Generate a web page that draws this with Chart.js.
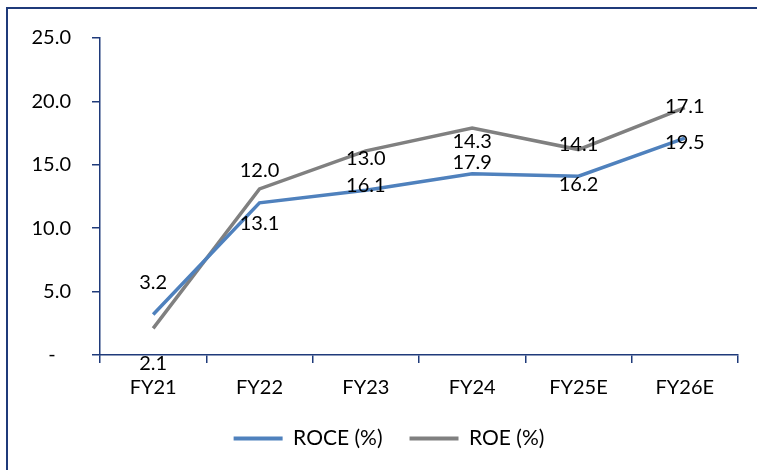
<!DOCTYPE html>
<html>
<head>
<meta charset="utf-8">
<script src="https://cdn.jsdelivr.net/npm/chart.js@4.4.1/dist/chart.umd.min.js"></script>
<style>
  html, body { margin: 0; padding: 0; background: #ffffff; overflow: hidden; }
  #wrap { position: relative; width: 757px; height: 470px; overflow: hidden; }
  #frame { position: absolute; left: 6px; top: 7px; width: 800px; height: 500px; border: 2px solid #1F3A7A; box-sizing: border-box; }
  canvas { position: absolute; left: 0; top: 0; }
</style>
</head>
<body>
<div id="wrap">
  <div id="frame"></div>
  <canvas id="c" width="757" height="470"></canvas>
</div>
<script>
const categories = ['FY21', 'FY22', 'FY23', 'FY24', 'FY25E', 'FY26E'];
const roce = [3.2, 12.0, 13.0, 14.3, 14.1, 17.1];
const roe = [2.1, 13.1, 16.1, 17.9, 16.2, 19.5];
const yTicks = [0, 5, 10, 15, 20, 25];

const NAVY = '#1F3A7A';
const FONT = { family: 'Lato, "Open Sans", sans-serif', size: 20 };
const LEGEND_FONT = { family: 'Lato, "Open Sans", sans-serif', size: 21 };

const labelPlugin = {
  id: 'valueLabels',
  afterLayout(chart) {
    if (chart.legend) { chart.legend.left += 20; chart.legend.right += 20; }
  },
  afterDatasetsDraw(chart) {
    const ctx = chart.ctx;
    ctx.save();
    ctx.font = FONT.size + 'px ' + FONT.family;
    ctx.fillStyle = '#000000';
    ctx.textAlign = 'center';
    ctx.textBaseline = 'middle';
    chart.data.datasets.forEach((ds, i) => {
      const meta = chart.getDatasetMeta(i);
      meta.data.forEach((pt, j) => {
        ctx.fillText(ds.data[j].toFixed(1), pt.x, pt.y + ds.labelOffset);
      });
    });
    ctx.restore();
  }
};

new Chart(document.getElementById('c'), {
  type: 'line',
  data: {
    labels: categories,
    datasets: [
      { label: 'ROCE (%)', data: roce, borderColor: '#4F81BD', backgroundColor: '#4F81BD',
        borderWidth: 3.5, pointRadius: 0, tension: 0, labelOffset: -32 },
      { label: 'ROE (%)', data: roe, borderColor: '#808080', backgroundColor: '#808080',
        borderWidth: 3.5, pointRadius: 0, tension: 0, labelOffset: 35 }
    ]
  },
  options: {
    responsive: false,
    animation: false,
    layout: { padding: { top: 38, right: 19, left: 0, bottom: 11 } },
    plugins: {
      legend: {
        position: 'bottom',
        labels: {
          font: LEGEND_FONT, color: '#000000', boxWidth: 49, boxHeight: 4, padding: 27,
          generateLabels(chart) {
            return chart.data.datasets.map((ds, i) => ({
              text: ds.label, fillStyle: ds.borderColor, strokeStyle: ds.borderColor,
              lineWidth: 0, datasetIndex: i, fontColor: '#000000'
            }));
          }
        }
      },
      tooltip: { enabled: false }
    },
    scales: {
      x: {
        offset: true,
        grid: { display: true, drawOnChartArea: false, offset: true, color: NAVY, lineWidth: 1.5, tickLength: 8 },
        border: { color: NAVY, width: 1.5 },
        ticks: { font: FONT, color: '#000000', padding: 13, maxRotation: 0 },
        afterFit(s) { s.height = 46; }
      },
      y: {
        min: 0, max: 25,
        afterBuildTicks(s) { s.ticks = yTicks.map(v => ({ value: v })); },
        grid: { display: true, drawOnChartArea: false, color: NAVY, lineWidth: 1.5, tickLength: 8 },
        border: { color: NAVY, width: 1.5 },
        ticks: {
          font: FONT, color: '#000000', padding: 21,
          callback: v => v === 0 ? '-   ' : v.toFixed(1)
        },
        afterFit(s) { s.width = 100; }
      }
    }
  },
  plugins: [labelPlugin]
});
</script>
</body>
</html>
